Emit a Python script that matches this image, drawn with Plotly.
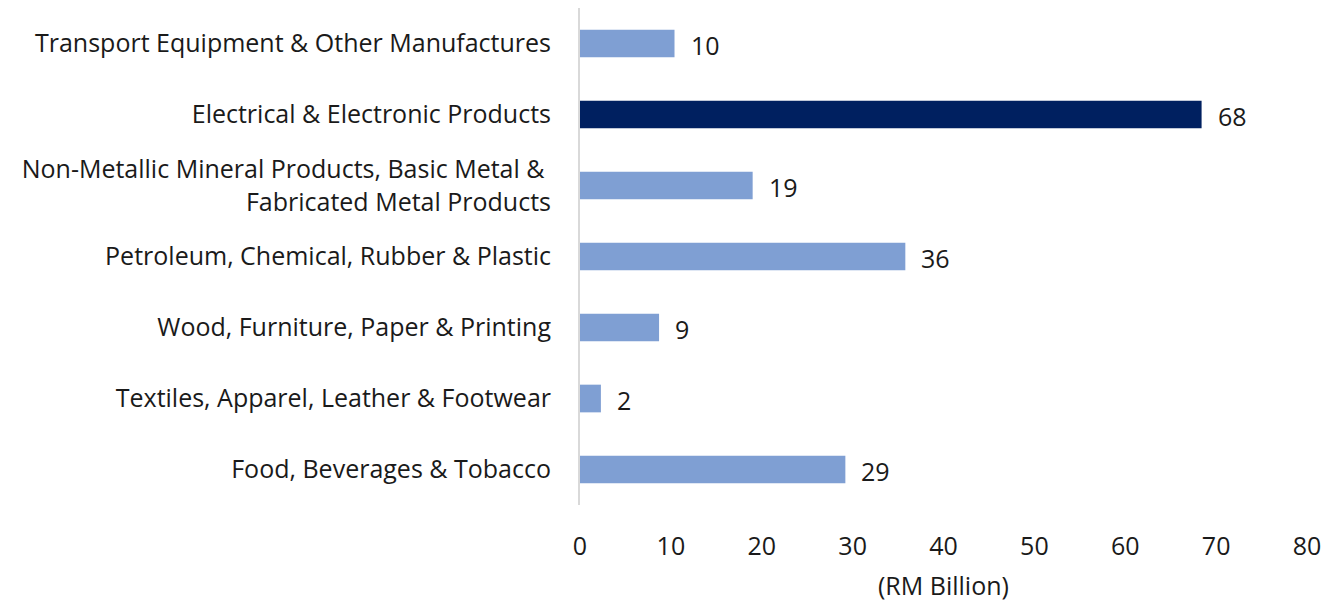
import plotly.graph_objects as go

categories = [
    "Food, Beverages & Tobacco",
    "Textiles, Apparel, Leather & Footwear",
    "Wood, Furniture, Paper & Printing",
    "Petroleum, Chemical, Rubber & Plastic",
    "Non-Metallic Mineral Products, Basic Metal & <br>Fabricated Metal Products",
    "Electrical & Electronic Products",
    "Transport Equipment & Other Manufactures",
]
values = [29.2, 2.3, 8.7, 35.8, 19.0, 68.4, 10.4]
bar_colors = ["#7F9FD3", "#7F9FD3", "#7F9FD3", "#7F9FD3", "#7F9FD3", "#002060", "#7F9FD3"]
x_ticks = [0, 10, 20, 30, 40, 50, 60, 70, 80]
x_title = "(RM Billion)"

FONT = "Open Sans"
TXT = "#1a1a1a"
FS = 25

fig = go.Figure()
fig.add_trace(go.Bar(
    x=values, y=categories, orientation="h",
    marker=dict(color=bar_colors, line=dict(width=0)),
    width=0.39, hoverinfo="skip",
))

for v, c in zip(values, categories):
    fig.add_annotation(x=v, y=c, text=f"{v:.0f}", showarrow=False,
                       xanchor="left", xshift=14, yshift=-1,
                       font=dict(family=FONT, size=FS, color=TXT))

fig.add_annotation(x=0.5, y=0, xref="paper", yref="paper", text=x_title,
                   showarrow=False, xanchor="center", yanchor="middle", yshift=-80,
                   borderpad=0,
                   font=dict(family=FONT, size=FS, color=TXT))

fig.update_layout(
    width=1327, height=601,
    margin=dict(l=580, r=20, t=8, b=96),
    paper_bgcolor="white", plot_bgcolor="white",
    showlegend=False,
    font=dict(family=FONT, size=FS, color=TXT),
    xaxis=dict(range=[0, 80], tickvals=x_ticks, showgrid=False, zeroline=False,
               showline=False, ticks="", ticklabelstandoff=24, automargin=False,
               fixedrange=True),
    yaxis=dict(categoryorder="array", categoryarray=categories,
               showgrid=False, zeroline=False, showline=True, automargin=False,
               linecolor="#D9D9D9", linewidth=2, ticks="",
               ticklabelstandoff=22, fixedrange=True),
)

fig.write_html("out.html")
